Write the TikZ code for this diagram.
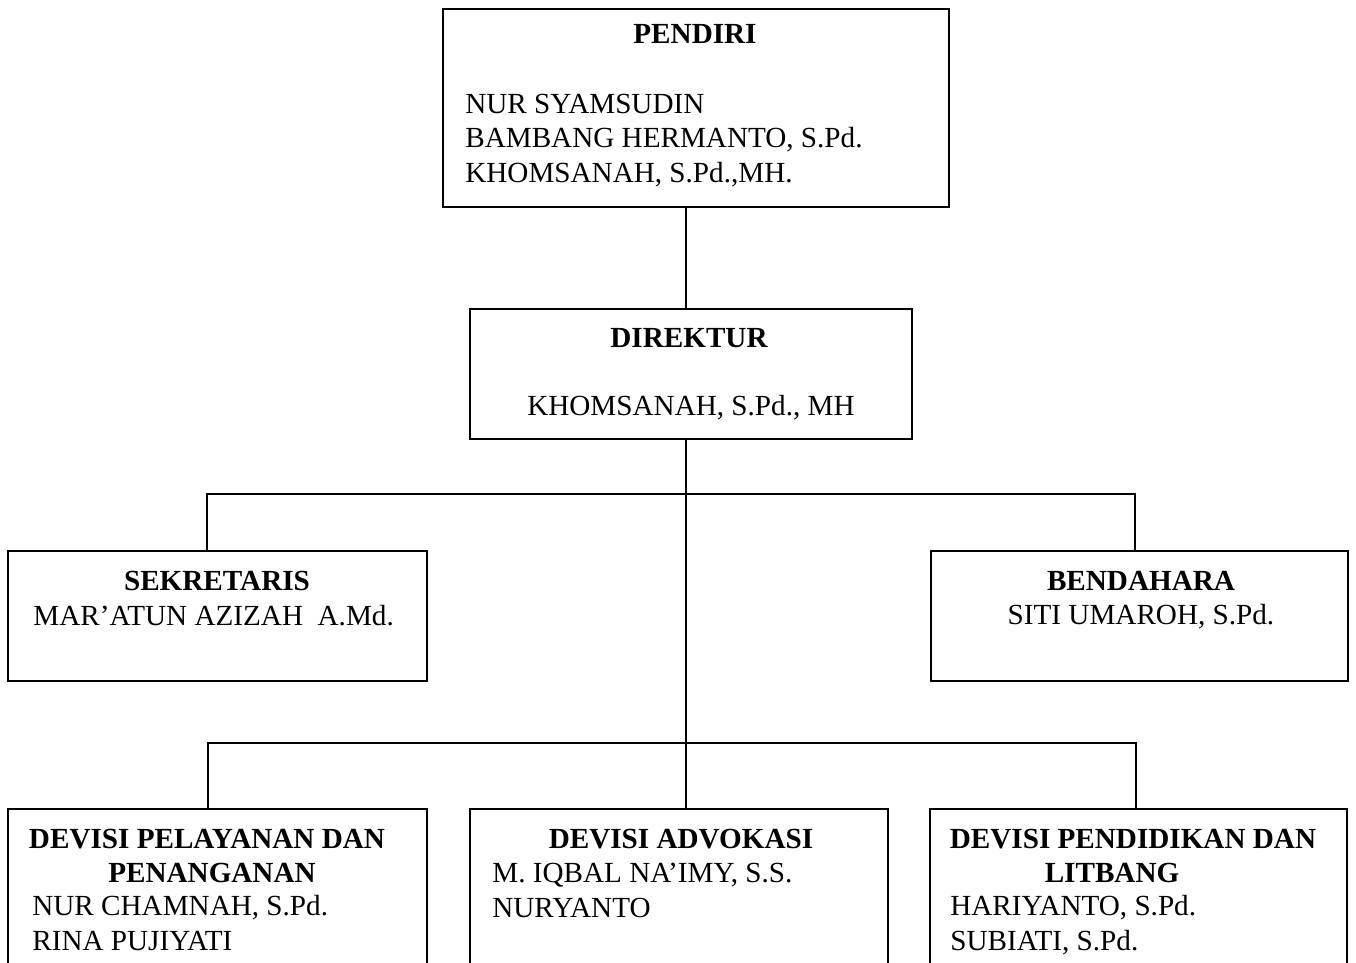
\documentclass[tikz,border=0pt]{standalone}
\usepackage{fontspec}
\setmainfont{Liberation Serif}

\tikzset{
  kotak/.style={draw, line width=1.1pt, inner sep=0pt},
  garis/.style={line width=1.1pt},
  judul/.style={font=\fontsize{16.6}{19.6}\selectfont\bfseries, anchor=base, inner sep=0pt},
  nama/.style={font=\fontsize{16.6}{19.6}\selectfont, anchor=base west, align=left, inner sep=0pt},
  namatengah/.style={font=\fontsize{16.6}{19.6}\selectfont, anchor=base, inner sep=0pt}
}

\begin{document}
\begin{tikzpicture}[x=0.02cm, y=-0.02cm]
\clip (0,0) rectangle (1356,963);

%---------------------------------------------------------------------------------------- PENDIRI
\node[kotak, minimum width=10.12cm, minimum height=3.96cm] (pendiri) at (696,108) {};
\node[judul] (pendiriJudul) at (695,44) {PENDIRI};
\node[nama] (pendiriNama) at (465,182) {NUR SYAMSUDIN\\BAMBANG HERMANTO, S.Pd.\\KHOMSANAH, S.Pd.,MH.}; % base = baris terakhir

%---------------------------------------------------------------------------------------- DIREKTUR
\node[kotak, minimum width=8.84cm, minimum height=2.6cm] (direktur) at (691,374) {};
\node[judul] (direkturJudul) at (689,347) {DIREKTUR};
\node[namatengah] (direkturNama) at (691,415) {KHOMSANAH, S.Pd., MH};

%---------------------------------------------------------------------------------------- SEKRETARIS / BENDAHARA
\node[kotak, minimum width=8.38cm, minimum height=2.6cm] (sekretaris) at (217.5,616) {};
\node[judul] (sekretarisJudul) at (217,590) {SEKRETARIS};
\node[nama] (sekretarisNama) at (33,625) {MAR’ATUN AZIZAH\ \ A.Md.};

\node[kotak, minimum width=8.34cm, minimum height=2.6cm] (bendahara) at (1139.5,616) {};
\node[judul] (bendaharaJudul) at (1141,590) {BENDAHARA};
\node[namatengah] (bendaharaNama) at (1141,624) {SITI UMAROH, S.Pd.};

%---------------------------------------------------------------------------------------- DEVISI (terpotong di bawah)
\node[kotak, minimum width=8.38cm, minimum height=4cm] (pelayanan) at (217.5,909) {};
\node[judul] (pelayananJudulA) at (207,848) {DEVISI PELAYANAN DAN};
\node[judul] (pelayananJudulB) at (212,882) {PENANGANAN};
\node[nama] (pelayananNama) at (32,950) {NUR CHAMNAH, S.Pd.\\RINA PUJIYATI};

\node[kotak, minimum width=8.36cm, minimum height=4cm] (advokasi) at (679,909) {};
\node[judul] (advokasiJudul) at (681,848) {DEVISI ADVOKASI};
\node[nama] (advokasiNama) at (492,917) {M. IQBAL NA’IMY, S.S.\\NURYANTO};

\node[kotak, minimum width=8.34cm, minimum height=4cm] (pendidikan) at (1138.5,909) {};
\node[judul] (pendidikanJudulA) at (1133,848) {DEVISI PENDIDIKAN DAN};
\node[judul] (pendidikanJudulB) at (1112,882) {LITBANG};
\node[nama] (pendidikanNama) at (950,950) {HARIYANTO, S.Pd.\\SUBIATI, S.Pd.};

%---------------------------------------------------------------------------------------- GARIS
\coordinate (batang) at (686,0);
\coordinate (kiriA) at (207,494);
\coordinate (kananA) at (1135,494);
\coordinate (kiriB) at (208,743);
\coordinate (kananB) at (1136,743);

\draw[garis] (pendiri.south -| batang) -- (direktur.north -| batang);
\draw[garis] (direktur.south -| batang) -- (advokasi.north -| batang);
\draw[garis] (sekretaris.north -| kiriA) -- (kiriA) -- (kananA) -- (bendahara.north -| kananA);
\draw[garis] (pelayanan.north -| kiriB) -- (kiriB) -- (kananB) -- (pendidikan.north -| kananB);

\end{tikzpicture}
\end{document}
